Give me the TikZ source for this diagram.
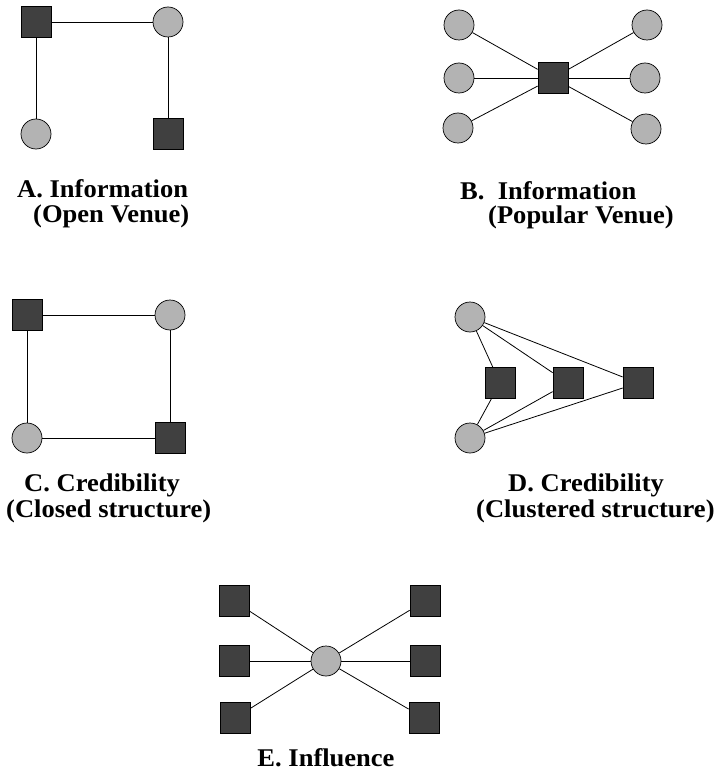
\documentclass[tikz,border=0pt]{standalone}
\usepackage{fontspec}
\setmainfont{Liberation Serif}
\definecolor{sqgray}{HTML}{404040}
\definecolor{cigray}{HTML}{B3B3B3}
% labels are set slightly wide
\newcommand\widelabel[1]{\scalebox{1.04}[1]{#1}}
\begin{document}
\begin{tikzpicture}[x=1pt,y=-1pt,
  sq/.style={draw=black, fill=sqgray, minimum width=30pt, minimum height=31pt, inner sep=0pt, line width=0.7pt},
  ci/.style={circle, draw=black, fill=cigray, minimum size=30pt, inner sep=0pt, line width=0.7pt},
  link/.style={line width=0.8pt},
  lab/.style={font=\fontsize{25.5}{30}\selectfont\bfseries, inner sep=0pt, anchor=base west,
              text height=17pt, text depth=4pt}]
\useasboundingbox (0,0) rectangle (715,778);

% A. open venue
\node[sq] (a1) at (36,22) {};
\node[ci] (a2) at (168,22) {};
\node[ci] (a3) at (36,134) {};
\node[sq] (a4) at (168,134) {};
\draw[link] (a1) -- (a2);
\draw[link] (a1) -- (a3);
\draw[link] (a2) -- (a4);
\node[lab] (labA1) at (17,197) {\widelabel{A. Information}};
\node[lab] (labA2) at (33,222) {\widelabel{(Open Venue)}};

% B. popular venue
\node[sq] (b0) at (553,78) {};
\node[ci] (b1) at (459,25) {};
\node[ci] (b2) at (459,78) {};
\node[ci] (b3) at (458,128) {};
\node[ci] (b4) at (647,25) {};
\node[ci] (b5) at (645,78) {};
\node[ci] (b6) at (646,129) {};
\foreach \n in {b1,b2,b3,b4,b5,b6} \draw[link] (b0) -- (\n);
\node[lab] (labB1) at (460,199) {\widelabel{B.\ \ Information}};
\node[lab] (labB2) at (488,223) {\widelabel{(Popular Venue)}};

% C. closed structure
\node[sq] (c1) at (27,315) {};
\node[ci] (c2) at (170,315) {};
\node[ci] (c3) at (27,438) {};
\node[sq] (c4) at (170,438) {};
\draw[link] (c1) -- (c2);
\draw[link] (c1) -- (c3);
\draw[link] (c3) -- (c4);
\draw[link] (c2) -- (c4);
\node[lab] (labC1) at (24,491) {\widelabel{C. Credibility}};
\node[lab] (labC2) at (6,517) {\widelabel{(Closed structure)}};

% D. clustered structure
\node[ci] (d1) at (470,317) {};
\node[ci] (d2) at (470,438) {};
\node[sq] (d3) at (500,383) {};
\node[sq] (d4) at (568,383) {};
\node[sq] (d5) at (638,383) {};
\foreach \n in {d3,d4,d5} {
  \draw[link] (d1) -- (\n);
  \draw[link] (d2) -- (\n);
}
\node[lab] (labD1) at (508,491) {\widelabel{D. Credibility}};
\node[lab] (labD2) at (476,517) {\widelabel{(Clustered structure)}};

% E. influence
\node[ci] (e0) at (326,661) {};
\node[sq] (e1) at (234,601) {};
\node[sq] (e2) at (234,661) {};
\node[sq] (e3) at (235,718) {};
\node[sq] (e4) at (425,601) {};
\node[sq] (e5) at (425,661) {};
\node[sq] (e6) at (424,718) {};
\foreach \n in {e1,e2,e3,e4,e5,e6} \draw[link] (e0) -- (\n);
\node[lab, anchor=base] (labE) at (326,766) {\widelabel{E. Influence}};
\end{tikzpicture}
\end{document}
